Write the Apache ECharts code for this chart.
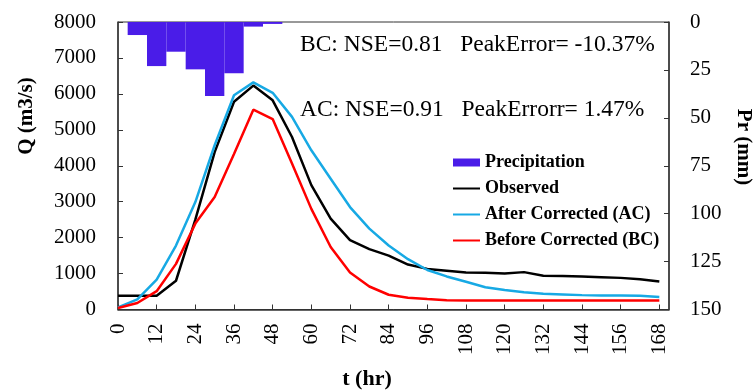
<!DOCTYPE html>
<html>
<head>
<meta charset="utf-8">
<script src="https://cdn.jsdelivr.net/npm/echarts@6/dist/echarts.min.js"></script>
<style>
html,body{margin:0;padding:0;background:#fff;}
#chart{width:756px;height:391px;}
</style>
</head>
<body>
<div id="chart"></div>
<script>
const tHours = [0,6,12,18,24,30,36,42,48,54,60,66,72,78,84,90,96,102,108,114,120,126,132,138,144,150,156,162,168];
const observed = [380,380,380,800,2500,4380,5780,6230,5820,4800,3460,2530,1930,1680,1500,1250,1130,1080,1030,1020,1000,1040,940,930,920,900,880,840,780];
const afterCorrected = [60,280,830,1780,2990,4570,5960,6320,6030,5360,4430,3640,2850,2250,1780,1400,1100,920,770,620,540,480,440,420,400,390,390,380,350];
const beforeCorrected = [40,180,510,1270,2390,3130,4330,5560,5300,4060,2800,1740,1030,640,410,330,290,260,250,250,250,250,250,250,250,250,250,250,250];
const precipTimes = [6,12,18,24,30,36,42,48];
const precipitation = [6.8,23,15.5,24.7,38.6,26.8,2.4,1.0];
const annotations = ['BC: NSE=0.81   PeakError= -10.37%', 'AC: NSE=0.91   PeakErrorr= 1.47%'];

const FONT = 'Liberation Serif';
const axisCol = '#333';
const zip = (a, b) => a.map((v, i) => [v, b[i]]);
const plain = v => String(v);

const chart = echarts.init(document.getElementById('chart'), null, {renderer: 'canvas'});
chart.setOption({
  animation: false,
  grid: {left: 118, right: 87, top: 22, bottom: 81.5, show: true, borderColor: axisCol, borderWidth: 1, backgroundColor: 'transparent'},
  legend: {
    orient: 'vertical', left: 447, top: 148, itemWidth: 27, itemHeight: 8, itemGap: 7,
    textStyle: {fontFamily: FONT, fontWeight: 'bold', fontSize: 18, lineHeight: 19, color: '#000'},
    data: [
      {name: 'Precipitation', icon: 'rect'},
      {name: 'Observed', itemStyle: {opacity: 0}},
      {name: 'After Corrected (AC)', itemStyle: {opacity: 0}},
      {name: 'Before Corrected (BC)', itemStyle: {opacity: 0}}
    ]
  },
  xAxis: {
    type: 'value', min: 0, max: 171, interval: 12,
    axisLine: {onZero: false, lineStyle: {color: axisCol, width: 1.5}},
    axisTick: {inside: true, length: 5, lineStyle: {color: axisCol}},
    splitLine: {show: false},
    axisLabel: {rotate: 90, margin: 14, fontFamily: FONT, fontSize: 21, color: '#000', showMaxLabel: false, formatter: plain}
  },
  yAxis: [{
    type: 'value', min: 0, max: 8000, interval: 1000,
    axisLine: {show: true, lineStyle: {color: axisCol, width: 1.5}},
    axisTick: {show: true, inside: true, length: 5, lineStyle: {color: axisCol}},
    splitLine: {show: false},
    axisLabel: {margin: 22, fontFamily: FONT, fontSize: 21, color: '#000', formatter: plain}
  }, {
    type: 'value', min: 0, max: 150, interval: 25, inverse: true, position: 'right',
    axisLine: {show: true, lineStyle: {color: axisCol, width: 1.5}},
    axisTick: {show: true, inside: true, length: 5, lineStyle: {color: axisCol}},
    splitLine: {show: false},
    axisLabel: {margin: 21, fontFamily: FONT, fontSize: 21, color: '#000', formatter: plain}
  }],
  series: [{
    name: 'Precipitation', type: 'custom', xAxisIndex: 0, yAxisIndex: 1,
    itemStyle: {color: '#4A1CE8'},
    encode: {x: 0, y: 1},
    data: zip(precipTimes, precipitation),
    renderItem: function (params, api) {
      const t = api.value(0), p = api.value(1);
      const a = api.coord([t - 3, 0]);
      const b = api.coord([t + 3, p]);
      return {type: 'rect', shape: {x: a[0], y: a[1], width: b[0] - a[0], height: b[1] - a[1]}, style: {fill: '#4A1CE8'}};
    }
  }, {
    name: 'Observed', type: 'line', symbol: 'none', data: zip(tHours, observed),
    lineStyle: {color: '#000', width: 2.5}, itemStyle: {color: '#000'}
  }, {
    name: 'After Corrected (AC)', type: 'line', symbol: 'none', data: zip(tHours, afterCorrected),
    lineStyle: {color: '#17A9E4', width: 2.5}, itemStyle: {color: '#17A9E4'}
  }, {
    name: 'Before Corrected (BC)', type: 'line', symbol: 'none', data: zip(tHours, beforeCorrected),
    lineStyle: {color: '#FF0000', width: 2.5}, itemStyle: {color: '#FF0000'}
  }],
  graphic: [
    {type: 'text', x: 300, y: 33, style: {text: annotations[0], font: '23.5px "Liberation Serif"', fill: '#000'}},
    {type: 'text', x: 300, y: 98, style: {text: annotations[1], font: '23.5px "Liberation Serif"', fill: '#000'}},
    {type: 'text', x: 27, y: 116, rotation: Math.PI / 2, style: {text: 'Q (m3/s)', font: 'bold 21px "Liberation Serif"', fill: '#000', align: 'center', verticalAlign: 'middle'}},
    {type: 'text', x: 743, y: 147, rotation: -Math.PI / 2, style: {text: 'Pr (mm)', font: 'bold 21px "Liberation Serif"', fill: '#000', align: 'center', verticalAlign: 'middle'}},
    {type: 'text', x: 367, y: 379, style: {text: 't (hr)', font: 'bold 22px "Liberation Serif"', fill: '#000', align: 'center', verticalAlign: 'middle'}}
  ]
});
</script>
</body>
</html>
